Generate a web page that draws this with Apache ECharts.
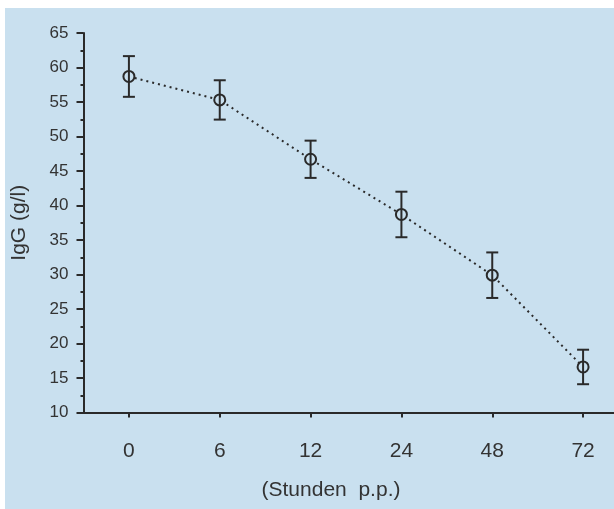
<!DOCTYPE html>
<html>
<head>
<meta charset="utf-8">
<script src="https://cdn.jsdelivr.net/npm/echarts@6/dist/echarts.min.js"></script>
<style>
html,body{margin:0;padding:0;background:#fff;}
#c{width:614px;height:509px;}
</style>
</head>
<body>
<div id="c"></div>
<script>
var categories = ['0', '6', '12', '24', '48', '72'];
var means = [58.7, 55.3, 46.7, 38.7, 29.9, 16.6];
var errors = [2.95, 2.85, 2.7, 3.3, 3.3, 2.5];
var yTicks = [10, 15, 20, 25, 30, 35, 40, 45, 50, 55, 60, 65];

var ink = '#2a2a2a';
var bg = '#c9e0ef';

var errData = categories.map(function (c, i) {
  return [i, means[i] - errors[i], means[i] + errors[i]];
});

var chart = echarts.init(document.getElementById('c'), null, {renderer: 'canvas'});
chart.setOption({
  backgroundColor: '#ffffff',
  animation: false,
  textStyle: {fontFamily: 'Liberation Sans, Arial, sans-serif'},
  graphic: [
    {type: 'rect', z: -10, silent: true, shape: {x: 5, y: 8, width: 620, height: 510}, style: {fill: bg}},
    {type: 'text', x: 331, y: 490, style: {text: '(Stunden  p.p.)', font: '21px Liberation Sans, Arial, sans-serif', fill: '#333', textAlign: 'center', textVerticalAlign: 'middle'}}
  ],
  grid: {left: 83.5, width: 545, top: 33, height: 379.5, containLabel: false, outerBoundsMode: 'none'},
  xAxis: {
    type: 'category',
    data: categories,
    boundaryGap: true,
    axisLine: {show: true, lineStyle: {color: ink, width: 2}},
    axisTick: {show: true, alignWithLabel: true, length: 5, lineStyle: {color: ink, width: 2}},
    axisLabel: {color: '#333', fontSize: 21, margin: 28, fontFamily: 'Liberation Sans, Arial, sans-serif'},
    splitLine: {show: false}
  },
  yAxis: {
    type: 'value',
    min: yTicks[0],
    max: yTicks[yTicks.length - 1],
    interval: 5,
    name: 'IgG (g/l)',
    nameLocation: 'middle',
    nameGap: 54,
    nameTextStyle: {color: '#333', fontSize: 21, fontFamily: 'Liberation Sans, Arial, sans-serif'},
    axisLine: {show: true, lineStyle: {color: ink, width: 2}},
    axisTick: {show: true, length: 7, lineStyle: {color: ink, width: 2}},
    minorTick: {show: true, splitNumber: 2, length: 3, lineStyle: {color: ink, width: 2}},
    axisLabel: {color: '#333', fontSize: 17, margin: 15, fontFamily: 'Liberation Sans, Arial, sans-serif'},
    splitLine: {show: false}
  },
  series: [
    {
      type: 'line',
      data: means,
      z: 2,
      symbol: 'none',
      lineStyle: {color: ink, width: 2, type: [2, 4]}
    },
    {
      type: 'scatter',
      data: means,
      z: 3,
      symbol: 'circle',
      symbolSize: 11,
      itemStyle: {color: bg, borderColor: ink, borderWidth: 2, opacity: 1}
    },
    {
      type: 'custom',
      z: 4,
      data: errData,
      renderItem: function (params, api) {
        var x = api.value(0);
        var lo = api.coord([x, api.value(1)]);
        var hi = api.coord([x, api.value(2)]);
        var hw = 6;
        var st = {stroke: ink, lineWidth: 2, fill: null};
        return {
          type: 'group',
          children: [
            {type: 'line', shape: {x1: lo[0], y1: lo[1], x2: hi[0], y2: hi[1]}, style: st},
            {type: 'line', shape: {x1: lo[0] - hw, y1: lo[1], x2: lo[0] + hw, y2: lo[1]}, style: st},
            {type: 'line', shape: {x1: hi[0] - hw, y1: hi[1], x2: hi[0] + hw, y2: hi[1]}, style: st}
          ]
        };
      }
    }
  ]
});
</script>
</body>
</html>
